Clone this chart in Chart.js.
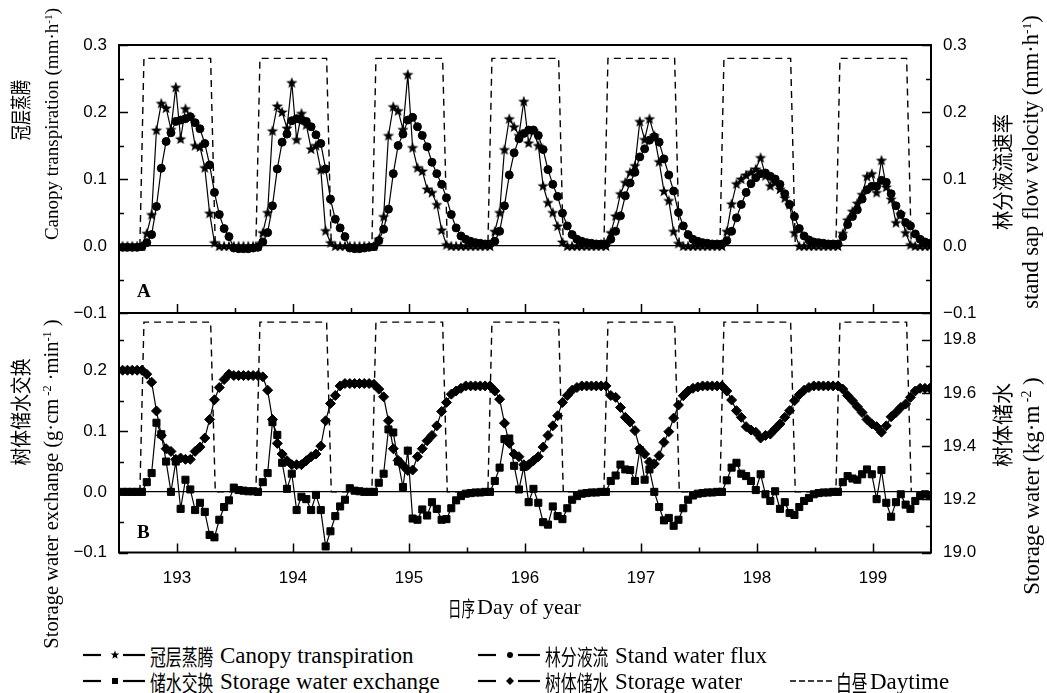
<!DOCTYPE html>
<html>
<head>
<meta charset="utf-8">
<script src="https://cdn.jsdelivr.net/npm/chart.js@4.4.1/dist/chart.umd.min.js"></script>
<style>
  html, body { margin: 0; padding: 0; background: #fff; }
  #wrap { position: relative; width: 1047px; height: 693px; overflow: hidden; }
  #wrap canvas { position: absolute; left: 0; }
  .t { position: absolute; white-space: nowrap; color: #000; line-height: 1;
       font-family: "Liberation Serif", "Times New Roman", serif; }
  .cjk { font-family: "Noto Sans CJK SC", sans-serif; }
  .sup { font-size: 60%; position: relative; top: -0.55em; }
</style>
</head>
<body>
<div id="wrap">
  <canvas id="chartA" width="1047" height="340" style="top:0"></canvas>
  <canvas id="chartB" width="1047" height="325" style="top:275px"></canvas>
</div>
<script>
// day of year, hourly samples, 24 per day
const days = [193, 194, 195, 196, 197, 198, 199];
const halfDays = [193.5, 194.5, 195.5, 196.5, 197.5, 198.5];

// canopy transpiration (mm/h), panel A
const transpiration = [
  0, 0, 0, 0, 0, 0.019, 0.047, 0.173, 0.213, 0.206, 0.174, 0.237, 0.16, 0.205, 0.193, 0.15, 0.148, 0.117, 0.049, 0.005, 0, 0, 0, 0,
  0, 0, 0, 0, 0, 0.02, 0.05, 0.172, 0.209, 0.2, 0.176, 0.244, 0.159, 0.198, 0.181, 0.145, 0.15, 0.114, 0.023, 0.005, 0, 0, 0, 0,
  0, 0, 0, 0, 0, 0.01, 0.044, 0.165, 0.208, 0.202, 0.174, 0.256, 0.147, 0.117, 0.112, 0.085, 0.08, 0.062, 0.024, 0.002, 0, 0, 0, 0,
  0, 0, 0, 0, 0, 0.022, 0.05, 0.144, 0.19, 0.178, 0.165, 0.216, 0.154, 0.172, 0.15, 0.09, 0.065, 0.05, 0.03, 0.006, 0, 0, 0, 0,
  0, 0, 0, 0, 0, 0.02, 0.045, 0.078, 0.095, 0.11, 0.12, 0.186, 0.159, 0.19, 0.165, 0.126, 0.082, 0.068, 0.022, 0.004, 0, 0, 0, 0,
  0, 0, 0, 0, 0, 0.022, 0.063, 0.093, 0.1, 0.106, 0.11, 0.115, 0.132, 0.105, 0.09, 0.095, 0.085, 0.072, 0.062, 0.02, 0, 0, 0, 0,
  0, 0, 0, 0, 0, 0.019, 0.039, 0.052, 0.064, 0.077, 0.104, 0.108, 0.08, 0.128, 0.088, 0.07, 0.035, 0.048, 0.02, 0.002, 0, 0, 0, 0
];

// stand sap flow (mm/h), panel A right axis
const sapFlow = [
  -0.002, -0.002, -0.002, -0.002, -0.001, 0.005, 0.017, 0.059, 0.116, 0.156, 0.169, 0.186, 0.188, 0.19, 0.193, 0.184, 0.175, 0.153, 0.121, 0.08, 0.047, 0.026, 0.014, -0.003,
  -0.004, -0.004, -0.004, -0.003, -0.002, 0.006, 0.02, 0.06, 0.115, 0.155, 0.167, 0.187, 0.19, 0.188, 0.186, 0.178, 0.166, 0.153, 0.115, 0.07, 0.04, 0.027, 0.014, -0.003,
  -0.004, -0.004, -0.003, -0.002, -0.001, 0.008, 0.025, 0.055, 0.108, 0.15, 0.167, 0.188, 0.192, 0.178, 0.165, 0.148, 0.125, 0.108, 0.092, 0.072, 0.047, 0.027, 0.015, 0.01,
  0.007, 0.005, 0.004, 0.003, 0.003, 0.007, 0.022, 0.06, 0.106, 0.139, 0.16, 0.168, 0.173, 0.173, 0.165, 0.144, 0.114, 0.092, 0.074, 0.049, 0.03, 0.017, 0.01, 0.007,
  0.005, 0.004, 0.003, 0.003, 0.003, 0.01, 0.022, 0.045, 0.075, 0.094, 0.11, 0.133, 0.145, 0.158, 0.163, 0.155, 0.13, 0.106, 0.082, 0.05, 0.03, 0.017, 0.01, 0.007,
  0.005, 0.004, 0.003, 0.003, 0.003, 0.008, 0.022, 0.042, 0.062, 0.08, 0.093, 0.102, 0.108, 0.109, 0.104, 0.1, 0.092, 0.078, 0.062, 0.044, 0.026, 0.015, 0.009, 0.006,
  0.005, 0.004, 0.003, 0.003, 0.003, 0.014, 0.032, 0.044, 0.054, 0.07, 0.084, 0.089, 0.089, 0.098, 0.095, 0.078, 0.06, 0.047, 0.035, 0.03, 0.018, 0.01, 0.006, 0.004
];

// storage water exchange (g/cm2/min), panel B left axis
const exchange = [
  0, 0, 0, 0, 0, 0.016, 0.031, 0.114, 0.095, 0.05, 0.0, 0.05, -0.028, 0.02, 0.004, -0.03, -0.018, -0.033, -0.071, -0.075, -0.046, -0.025, -0.014, 0.007,
  0.003, 0.002, 0.001, 0.001, 0, 0.016, 0.031, 0.115, 0.094, 0.048, 0.005, 0.03, -0.03, -0.008, -0.012, -0.03, -0.005, -0.03, -0.09, -0.065, -0.04, -0.024, -0.013, 0.006,
  0.002, 0.001, 0, 0, 0, 0.015, 0.03, 0.103, 0.098, 0.05, 0.008, 0.068, -0.044, -0.046, -0.029, -0.039, -0.017, -0.028, -0.046, -0.045, -0.027, -0.014, -0.007, -0.003,
  -0.002, -0.001, -0.001, 0, 0, 0.018, 0.04, 0.087, 0.088, 0.043, 0.004, 0.041, -0.017, 0.005, -0.018, -0.05, -0.054, -0.024, -0.04, -0.045, -0.027, -0.013, -0.007, -0.003,
  -0.002, -0.001, -0.001, 0, 0, 0.018, 0.027, 0.045, 0.037, 0.036, 0.018, 0.069, 0.02, 0.037, 0.0, -0.025, -0.047, -0.043, -0.056, -0.046, -0.027, -0.013, -0.006, -0.003,
  -0.002, -0.001, -0.001, 0, 0, 0.019, 0.04, 0.048, 0.03, 0.026, 0.018, 0.003, 0.029, -0.004, -0.015, 0.001, -0.028, -0.017, -0.035, -0.038, -0.025, -0.015, -0.01, -0.004,
  -0.002, -0.001, -0.001, 0, 0, 0.016, 0.026, 0.022, 0.02, 0.029, 0.037, 0.029, -0.012, 0.036, -0.018, -0.041, -0.017, -0.004, -0.021, -0.028, -0.015, -0.007, -0.004, -0.007
];

// storage water (kg/m2), panel B right axis
const storage = [
  19.685, 19.685, 19.685, 19.685, 19.685, 19.67, 19.64, 19.532, 19.44, 19.39, 19.38, 19.35, 19.355, 19.35, 19.35, 19.38, 19.396, 19.43, 19.5, 19.574, 19.62, 19.65, 19.67, 19.665,
  19.665, 19.665, 19.665, 19.665, 19.665, 19.66, 19.61, 19.5, 19.41, 19.37, 19.345, 19.33, 19.33, 19.33, 19.345, 19.36, 19.37, 19.4, 19.495, 19.56, 19.59, 19.626, 19.635, 19.635,
  19.635, 19.635, 19.635, 19.635, 19.632, 19.614, 19.585, 19.495, 19.39, 19.346, 19.327, 19.308, 19.31, 19.36, 19.39, 19.42, 19.44, 19.476, 19.53, 19.564, 19.595, 19.607, 19.617, 19.626,
  19.626, 19.626, 19.626, 19.626, 19.626, 19.607, 19.576, 19.486, 19.41, 19.37, 19.36, 19.33, 19.33, 19.345, 19.36, 19.396, 19.44, 19.476, 19.514, 19.564, 19.59, 19.61, 19.62, 19.626,
  19.626, 19.626, 19.626, 19.626, 19.626, 19.59, 19.583, 19.545, 19.508, 19.49, 19.458, 19.39, 19.37, 19.34, 19.333, 19.364, 19.414, 19.454, 19.505, 19.554, 19.589, 19.607, 19.617, 19.622,
  19.626, 19.626, 19.626, 19.626, 19.626, 19.607, 19.573, 19.533, 19.508, 19.473, 19.46, 19.452, 19.43, 19.44, 19.445, 19.464, 19.483, 19.508, 19.533, 19.57, 19.593, 19.61, 19.62, 19.626,
  19.626, 19.626, 19.626, 19.626, 19.626, 19.614, 19.59, 19.57, 19.548, 19.526, 19.5, 19.483, 19.473, 19.452, 19.476, 19.51, 19.526, 19.545, 19.558, 19.583, 19.607, 19.617, 19.617, 19.617
];

// daytime box: on/off edges per day
const daytimeX = [
  192.68, 192.715, 193.29, 193.33,
  193.68, 193.715, 194.29, 194.33,
  194.68, 194.715, 195.29, 195.33,
  195.68, 195.715, 196.29, 196.33,
  196.68, 196.715, 197.29, 197.33,
  197.68, 197.715, 198.29, 198.33,
  198.68, 198.715, 199.29, 199.33
];
const daytimeY = [
  0, 0.28, 0.28, 0, 0, 0.28, 0.28, 0, 0, 0.28, 0.28, 0, 0, 0.28, 0.28, 0,
  0, 0.28, 0.28, 0, 0, 0.28, 0.28, 0, 0, 0.28, 0.28, 0
];

// axis ticks
const ticksA = [0.3, 0.2, 0.1, 0.0, -0.1];
const minorA = [0.25, 0.15, 0.05, -0.05];
const ticksBL = [0.2, 0.1, 0.0, -0.1];
const minorBL = [0.25, 0.15, 0.05, -0.05];
const ticksBR = [19.8, 19.6, 19.4, 19.2, 19.0];
const minorBR = [19.7, 19.5, 19.3, 19.1];

const hourX = [];
days.forEach(d => {
  for (let h = 0; h < 24; h++) hourX.push(d - 0.5 + (h + 0.75) / 24);
});
const pts = vals => vals.map((v, i) => ({ x: hourX[i], y: v }));
const daytime = daytimeX.map((x, i) => ({ x, y: daytimeY[i] }));

const fmt = v => (v < -1e-9 ? '\u2212' : '') + Math.abs(v).toFixed(1);

const starPath = (cx, cy, R, r) => {
  const p = [];
  for (let i = 0; i < 10; i++) {
    const rad = i % 2 ? r : R;
    const a = -Math.PI / 2 + i * Math.PI / 5;
    p.push([cx + rad * Math.cos(a), cy + rad * Math.sin(a)]);
  }
  return p;
};

const makeStar = (R) => {
  const c = document.createElement('canvas');
  const s = Math.ceil(R * 2 + 2);
  c.width = c.height = s;
  const g = c.getContext('2d');
  g.beginPath();
  starPath(s / 2, s / 2 + 0.5, R, R * 0.42).forEach(([x, y]) => g.lineTo(x, y));
  g.closePath();
  g.fillStyle = '#000';
  g.fill();
  return c;
};
const starImg = makeStar(6);

Chart.defaults.font.family = '"Liberation Sans", Arial, sans-serif';
Chart.defaults.font.size = 17;
Chart.defaults.color = '#000';

const innerTicks = {
  id: 'innerTicks',
  afterDraw(chart, args, opts) {
    const { ctx, chartArea: a } = chart;
    ctx.save();
    ctx.strokeStyle = '#000';
    ctx.lineWidth = 1.5;
    ctx.beginPath();
    for (const m of opts.marks) {
      const s = chart.scales[m.scale];
      const draw = (v, len) => {
        const p = Math.round(s.getPixelForValue(v)) + 0.5;
        if (m.side === 'left') { ctx.moveTo(a.left, p); ctx.lineTo(a.left + len, p); }
        if (m.side === 'right') { ctx.moveTo(a.right, p); ctx.lineTo(a.right - len, p); }
        if (m.side === 'bottom') { ctx.moveTo(p, a.bottom); ctx.lineTo(p, a.bottom - len); }
      };
      m.major.forEach(v => draw(v, 9));
      m.minor.forEach(v => draw(v, 5));
    }
    ctx.stroke();
    ctx.lineWidth = 2;
    ctx.strokeRect(a.left, a.top, a.right - a.left, a.bottom - a.top);
    ctx.restore();
  }
};

const zeroGrid = {
  drawTicks: false,
  lineWidth: 1.3,
  color: c => (c.tick && Math.abs(c.tick.value) < 1e-9 ? '#000' : 'rgba(0,0,0,0)')
};

const yAxis = (pos, min, max, ticks, width, grid) => ({
  type: 'linear',
  position: pos,
  min, max,
  afterFit: s => { s.width = width; },
  afterBuildTicks: s => { s.ticks = ticks.map(v => ({ value: v })); },
  ticks: { callback: fmt, padding: 12, color: '#000' },
  grid: grid || { display: false, drawTicks: false },
  border: { display: false }
});

const line = (label, data, axis, style, extra) => Object.assign({
  label, data, yAxisID: axis,
  borderColor: '#000', backgroundColor: '#000', borderWidth: 1.2,
  pointStyle: style, pointRadius: 4, pointBackgroundColor: '#000',
  pointBorderColor: '#000', pointBorderWidth: 1, tension: 0
}, extra || {});

const dayLine = axis => ({
  label: 'Daytime', data: daytime, yAxisID: axis,
  borderColor: '#000', borderWidth: 1.4, borderDash: [7, 5],
  pointRadius: 0, tension: 0
});

new Chart(document.getElementById('chartA'), {
  type: 'line',
  data: {
    datasets: [
      line('Canopy transpiration', pts(transpiration), 'y', starImg, { pointRadius: 5 }),
      line('Stand water flux', pts(sapFlow), 'y2', 'circle', { pointRadius: 4 }),
      dayLine('y')
    ]
  },
  options: {
    responsive: false, animation: false, devicePixelRatio: 1,
    layout: { padding: { top: 45, bottom: 27, left: 0, right: 0 } },
    plugins: {
      legend: { display: false }, tooltip: { enabled: false },
      innerTicks: { marks: [
        { scale: 'y', side: 'left', major: ticksA, minor: minorA },
        { scale: 'y2', side: 'right', major: ticksA, minor: minorA },
        { scale: 'x', side: 'bottom', major: days, minor: halfDays }
      ] }
    },
    scales: {
      x: { type: 'linear', min: 192.5, max: 199.5, display: false },
      y: yAxis('left', -0.1, 0.3, ticksA, 119, zeroGrid),
      y2: yAxis('right', -0.1, 0.3, ticksA, 116)
    }
  },
  plugins: [innerTicks]
});

new Chart(document.getElementById('chartB'), {
  type: 'line',
  data: {
    datasets: [
      line('Storage water exchange', pts(exchange), 'y', 'rect', { pointRadius: 5 }),
      line('Storage water', pts(storage), 'y2', 'rectRot', { pointRadius: 5 }),
      dayLine('y')
    ]
  },
  options: {
    responsive: false, animation: false, devicePixelRatio: 1,
    layout: { padding: { top: 38, bottom: 0, left: 0, right: 0 } },
    plugins: {
      legend: { display: false }, tooltip: { enabled: false },
      innerTicks: { marks: [
        { scale: 'y', side: 'left', major: ticksBL, minor: minorBL },
        { scale: 'y2', side: 'right', major: ticksBR, minor: minorBR },
        { scale: 'x', side: 'bottom', major: days, minor: halfDays }
      ] }
    },
    scales: {
      x: {
        type: 'linear', min: 192.5, max: 199.5, position: 'bottom',
        afterFit: s => { s.height = 47.5; },
        afterBuildTicks: s => { s.ticks = days.map(v => ({ value: v })); },
        ticks: { padding: 16, autoSkip: false, maxRotation: 0, callback: v => String(v) },
        grid: { display: false, drawTicks: false },
        border: { display: false }
      },
      y: yAxis('left', -0.1, 0.295, ticksBL, 119, zeroGrid),
      y2: yAxis('right', 19.0, 19.9, ticksBR, 116)
    }
  },
  plugins: [innerTicks]
});

// titles, panel letters and legend as page text
const wrap = document.getElementById('wrap');
const addText = (html, x, y, size, transform, cls, origin) => {
  const d = document.createElement('div');
  d.className = 't ' + (cls || '');
  d.innerHTML = html;
  Object.assign(d.style, { left: x + 'px', top: y + 'px', fontSize: size + 'px', transform });
  if (origin) d.style.transformOrigin = origin;
  wrap.append(d);
};
const rot = sx => 'translate(-50%,-50%) rotate(-90deg)' + (sx ? ` scaleX(${sx})` : '');
const mid = sx => 'translate(0,-50%)' + (sx ? ` scaleX(${sx})` : '');

addText('冠层蒸腾', 19, 110, 21, rot(0.72), 'cjk');
addText('Canopy transpiration (mm·h<span class="sup">-1</span>)', 51, 124, 19, rot());
addText('树体储水交换', 19, 412, 21, rot(0.85), 'cjk');
addText('Storage water exchange (g·cm<span class="sup"> -2</span> ·min<span class="sup">-1</span> )', 51, 484, 20.5, rot());
addText('林分液流速率', 1001, 172, 21, rot(0.92), 'cjk');
addText('stand sap flow velocity (mm·h<span class="sup">-1</span>)', 1031, 162, 22.5, rot());
addText('树体储水', 1001, 425, 21, rot(), 'cjk');
addText('Storage water  (kg·m<span class="sup"> -2</span> )', 1031, 486, 23, rot());

addText('日序', 448, 607, 21, mid(0.64), 'cjk', '0 50%');
addText('Day of year', 477, 607, 22, mid());

addText('<b>A</b>', 137, 290, 19, mid());
addText('<b>B</b>', 137, 531, 19, mid());

const svgSym = shape => {
  let m = '';
  if (shape === 'star') m = `<polygon points="${starPath(32, 8, 4.5, 1.9).map(p => p.join(',')).join(' ')}" fill="#000"/>`;
  if (shape === 'circle') m = '<circle cx="32" cy="8" r="3" fill="#000"/>';
  if (shape === 'square') m = '<rect x="29" y="5" width="6" height="6" fill="#000"/>';
  if (shape === 'diamond') m = '<polygon points="32,4 36,8 32,12 28,8" fill="#000"/>';
  return `<svg width="62" height="16" style="display:block">` +
    `<line x1="0" y1="8" x2="18" y2="8" stroke="#000" stroke-width="2.2"/>${m}` +
    `<line x1="40" y1="8" x2="62" y2="8" stroke="#000" stroke-width="2.2"/></svg>`;
};

const legendRows = [
  { y: 655, x: 83, sym: 'star', cn: '冠层蒸腾', en: 'Canopy transpiration' },
  { y: 655, x: 478, sym: 'circle', cn: '林分液流', en: 'Stand water flux' },
  { y: 681, x: 83, sym: 'square', cn: '储水交换', en: 'Storage water exchange' },
  { y: 681, x: 478, sym: 'diamond', cn: '树体储水', en: 'Storage water' }
];
legendRows.forEach(r => {
  addText(svgSym(r.sym), r.x, r.y, 16, mid());
  addText(r.cn, r.x + 67, r.y, 22, mid(0.72), 'cjk', '0 50%');
  addText(r.en, r.x + 137, r.y, 23, mid());
});
addText('<svg width="44" height="16" style="display:block"><line x1="0" y1="8" x2="44" y2="8" stroke="#000" stroke-width="1.5" stroke-dasharray="6 3"/></svg>', 790, 681, 16, mid());
addText('白昼', 836, 681, 22, mid(0.72), 'cjk', '0 50%');
addText('Daytime', 870, 681, 23, mid());
</script>
</body>
</html>
